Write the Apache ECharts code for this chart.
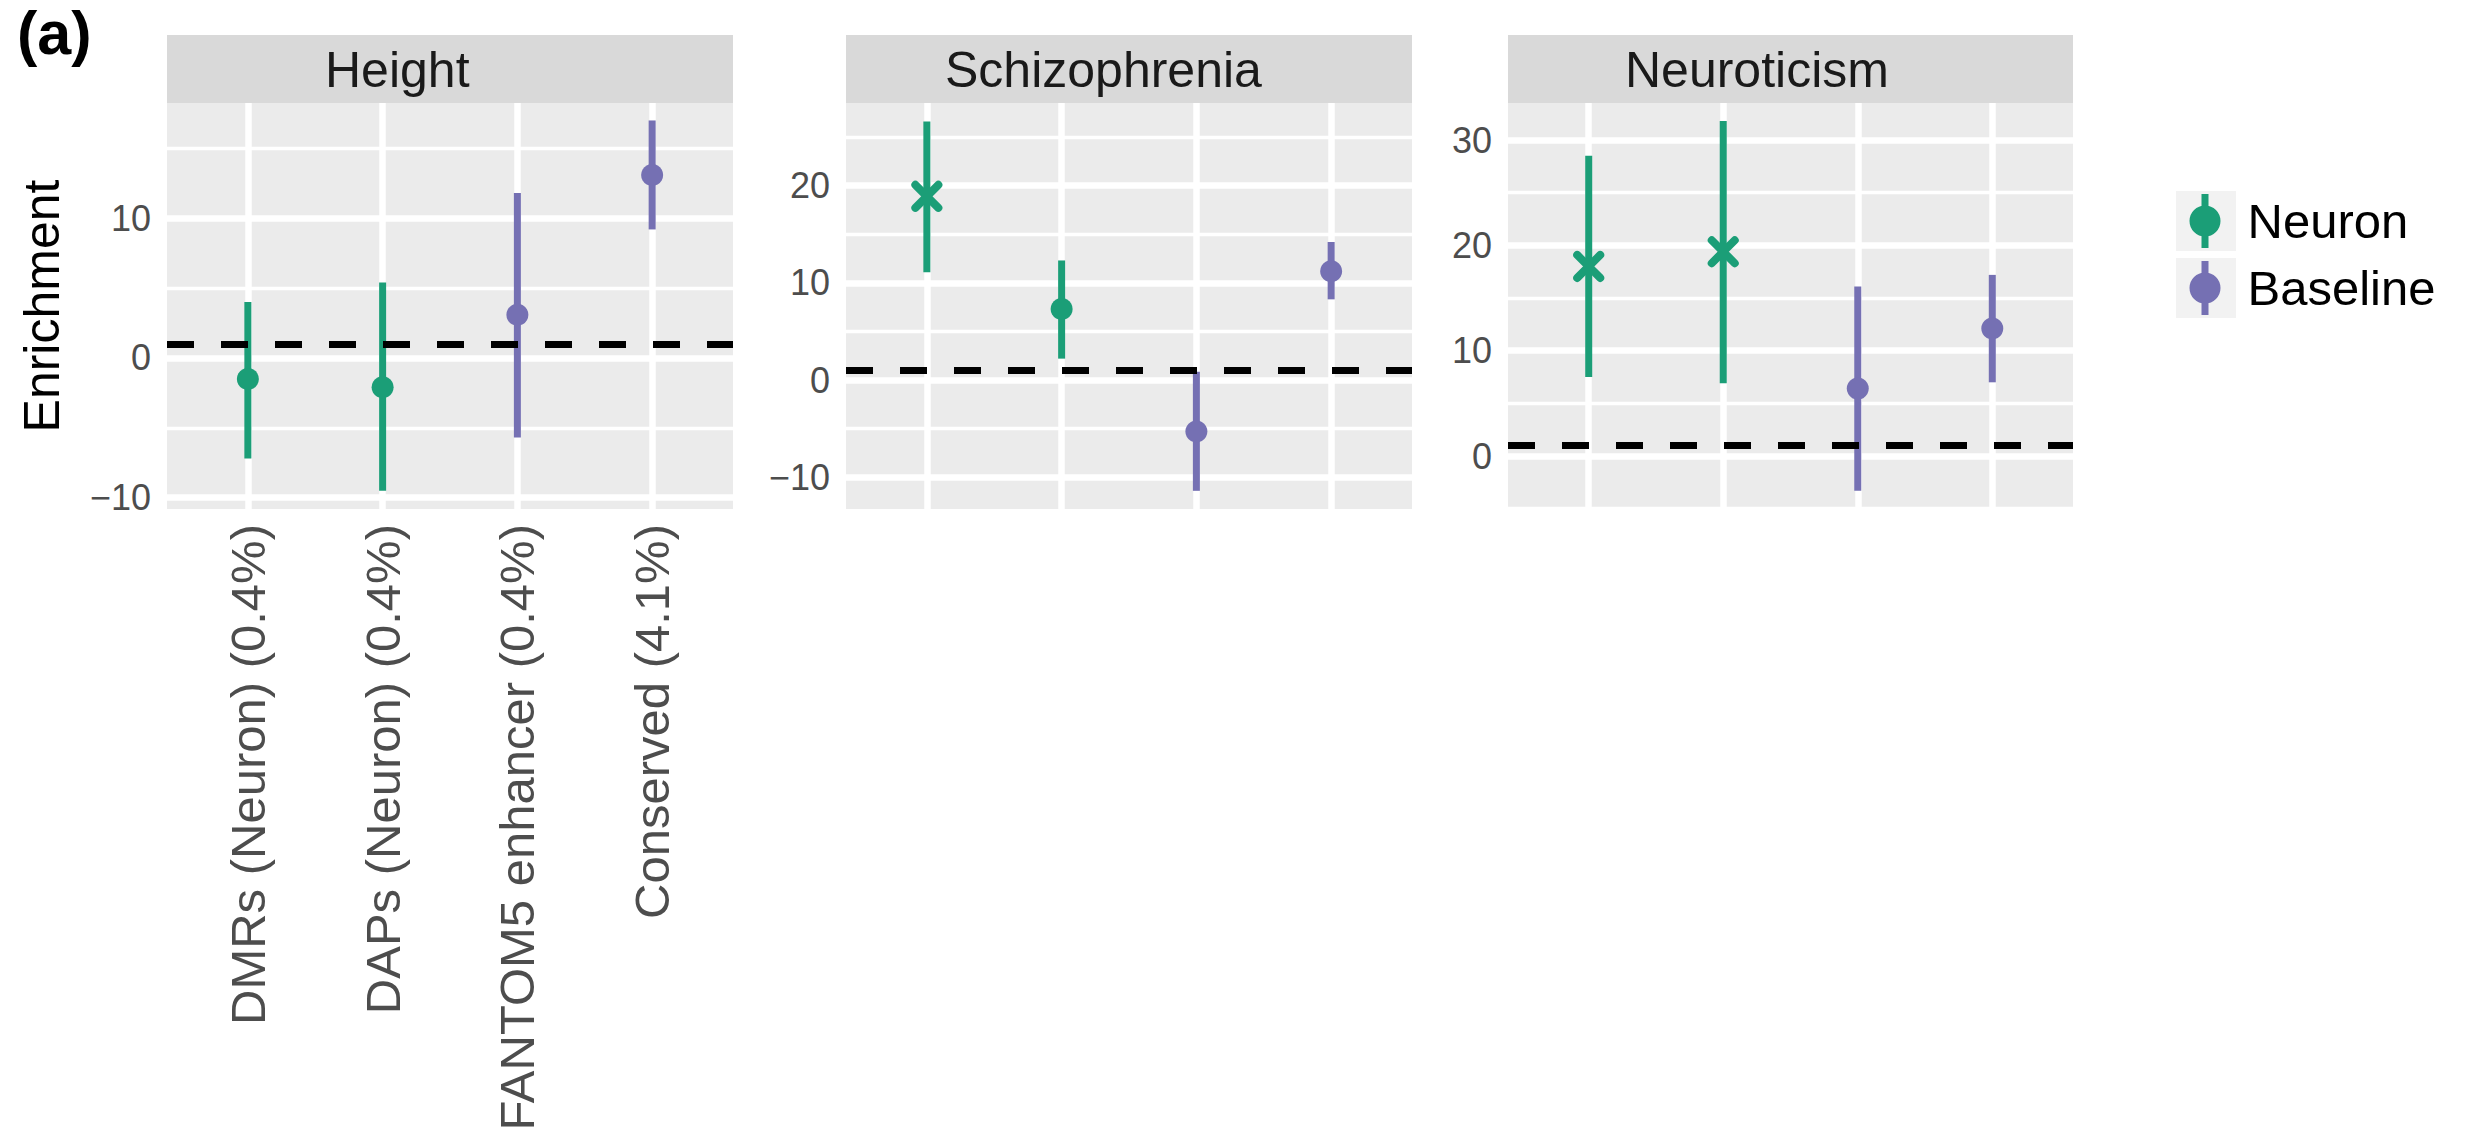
<!DOCTYPE html>
<html>
<head>
<meta charset="utf-8">
<script src="https://cdn.jsdelivr.net/npm/echarts@6/dist/echarts.min.js"></script>
<style>
  html, body { margin: 0; padding: 0; background: #ffffff; }
  #chart { width: 2476px; height: 1137px; }
</style>
</head>
<body>
<div id="chart"></div>
<script>
// ---------------- data ----------------
const categories = ['DMRs (Neuron) (0.4%)', 'DAPs (Neuron) (0.4%)', 'FANTOM5 enhancer (0.4%)', 'Conserved (4.1%)'];
const categoryGroup = ['Neuron', 'Neuron', 'Baseline', 'Baseline'];
const traits = ['Height', 'Schizophrenia', 'Neuroticism'];

const heightEst = [-1.5, -2.1, 3.1, 13.1];
const heightLow = [-7.2, -9.5, -5.7, 9.2];
const heightHigh = [4.0, 5.4, 11.8, 17.0];
const heightSignif = [0, 0, 0, 0];

const schizEst = [18.9, 7.3, -5.3, 11.2];
const schizLow = [11.1, 2.2, -11.4, 8.3];
const schizHigh = [26.6, 12.3, 0.85, 14.2];
const schizSignif = [1, 0, 0, 0];

const neuroEst = [18.0, 19.4, 6.4, 12.1];
const neuroLow = [7.5, 6.9, -3.3, 7.0];
const neuroHigh = [28.5, 31.8, 16.1, 17.2];
const neuroSignif = [1, 1, 0, 0];

const referenceLine = 1;
const yLimits = [[-10.81, 18.25], [-13.27, 28.5], [-5.03, 33.52]];
const majorStep = 10;
const minorStep = 5;

// ---------------- styling ----------------
const FONT = '"Liberation Sans", Arial, Helvetica, sans-serif';
const groupColor = { Neuron: '#1b9e77', Baseline: '#7570b3' };
const panelLeft = [167, 846, 1508];
const panelWidth = [566, 566, 565];
const panelTop = 103, panelHeight = 406;
const stripTop = 35, stripHeight = 68;
const stripTextLeft = [325, 945, 1625];

const panels = [
  { est: heightEst, low: heightLow, high: heightHigh, sig: heightSignif },
  { est: schizEst, low: schizLow, high: schizHigh, sig: schizSignif },
  { est: neuroEst, low: neuroLow, high: neuroHigh, sig: neuroSignif }
];

function fmtNum(v) { return v < 0 ? '\u2212' + Math.abs(v) : String(v); }

function renderItem(params, api) {
  const x = api.value(0), est = api.value(1), lo = api.value(2), hi = api.value(3), sig = api.value(4);
  const a = api.coord([x, lo]), b = api.coord([x, hi]), c = api.coord([x, est]);
  const color = api.visual('color');
  const children = [{
    type: 'line', shape: { x1: a[0], y1: a[1], x2: b[0], y2: b[1] },
    style: { stroke: color, lineWidth: 7 }
  }];
  if (sig) {
    const d = 11.5;
    children.push({ type: 'line', shape: { x1: c[0] - d, y1: c[1] - d, x2: c[0] + d, y2: c[1] + d },
      style: { stroke: color, lineWidth: 8, lineCap: 'round' } });
    children.push({ type: 'line', shape: { x1: c[0] - d, y1: c[1] + d, x2: c[0] + d, y2: c[1] - d },
      style: { stroke: color, lineWidth: 8, lineCap: 'round' } });
  } else {
    children.push({ type: 'circle', shape: { cx: c[0], cy: c[1], r: 11 }, style: { fill: color } });
  }
  return { type: 'group', children };
}

const grids = [], xAxes = [], yAxes = [], series = [], graphics = [];

panels.forEach((p, pi) => {
  grids.push({ left: panelLeft[pi], top: panelTop, width: panelWidth[pi], height: panelHeight,
    show: true, backgroundColor: '#ebebeb', borderWidth: 0, containLabel: false });

  xAxes.push({
    type: 'value', gridIndex: pi, min: 0.4, max: categories.length + 0.6,
    minInterval: 1, maxInterval: 1,
    axisLine: { show: false }, axisTick: { show: false },
    splitLine: { show: true, showMinLine: false, showMaxLine: false, lineStyle: { color: '#ffffff', width: 6.5 } },
    axisLabel: {
      show: pi === 0, rotate: 90, margin: 15, fontSize: 49, color: '#4d4d4d', fontFamily: FONT,
      showMinLabel: false, showMaxLabel: false,
      formatter: v => (Number.isInteger(v) && v >= 1 && v <= categories.length) ? categories[v - 1] : ''
    }
  });

  // major y axis (labels + major grid)
  yAxes.push({
    type: 'value', gridIndex: pi, min: yLimits[pi][0], max: yLimits[pi][1],
    minInterval: majorStep, maxInterval: majorStep,
    axisLine: { show: false }, axisTick: { show: false },
    splitLine: { show: true, showMinLine: false, showMaxLine: false, lineStyle: { color: '#ffffff', width: 6.5 } },
    axisLabel: { show: true, margin: 16, fontSize: 36, color: '#4d4d4d', fontFamily: FONT,
      showMinLabel: false, showMaxLabel: false, formatter: fmtNum },
    name: pi === 0 ? 'Enrichment' : '', nameLocation: 'middle', nameRotate: 90, nameGap: 100,
    nameTextStyle: { fontSize: 50, color: '#000000', fontFamily: FONT }
  });
  // minor y axis (minor grid only)
  yAxes.push({
    type: 'value', gridIndex: pi, min: yLimits[pi][0], max: yLimits[pi][1],
    minInterval: minorStep, maxInterval: minorStep,
    axisLine: { show: false }, axisTick: { show: false }, axisLabel: { show: false },
    splitLine: { show: true, showMinLine: false, showMaxLine: false, lineStyle: { color: '#ffffff', width: 3.3 } }
  });

  ['Neuron', 'Baseline'].forEach((g, gi) => {
    const data = [];
    categories.forEach((c, ci) => {
      if (categoryGroup[ci] === g) data.push([ci + 1, p.est[ci], p.low[ci], p.high[ci], p.sig[ci]]);
    });
    const s = {
      type: 'custom', name: g, xAxisIndex: pi, yAxisIndex: pi * 2,
      itemStyle: { color: groupColor[g] },
      renderItem, data, encode: { x: 0, y: [1, 2, 3] }, z: 3
    };
    if (gi === 0) {
      s.markLine = {
        silent: true, symbol: ['none', 'none'], label: { show: false }, animation: false,
        lineStyle: { color: '#000000', width: 7, type: [27, 27] },
        data: [{ yAxis: referenceLine }]
      };
    }
    series.push(s);
  });

  // facet strip
  graphics.push({ type: 'rect', left: panelLeft[pi], top: stripTop,
    shape: { width: panelWidth[pi], height: stripHeight }, style: { fill: '#d9d9d9' }, silent: true });
  graphics.push({ type: 'text', x: stripTextLeft[pi], y: stripTop + stripHeight / 2 + 1,
    style: { text: traits[pi], fontSize: 50, fill: '#1a1a1a', fontFamily: FONT, align: 'left', verticalAlign: 'middle' },
    silent: true });
});

// legend key backgrounds
graphics.push({ type: 'rect', left: 2176, top: 191, shape: { width: 60, height: 60 }, style: { fill: '#f2f2f2' }, silent: true, z: -1 });
graphics.push({ type: 'rect', left: 2176, top: 258, shape: { width: 60, height: 60 }, style: { fill: '#f2f2f2' }, silent: true, z: -1 });

const legendIcon = 'path://M26.5,3L33.5,3L33.5,16L26.5,16Z M26.5,44L33.5,44L33.5,57L26.5,57Z M14.5,30A15.5,15.5 0 1,1 45.5,30A15.5,15.5 0 1,1 14.5,30Z';

const chart = echarts.init(document.getElementById('chart'), null, { renderer: 'svg' });
chart.setOption({
  animation: false,
  backgroundColor: '#ffffff',
  title: { text: '(a)', left: 17, top: 2, padding: 0,
    textStyle: { fontSize: 61, fontWeight: 'bold', color: '#000000', fontFamily: FONT } },
  legend: {
    orient: 'vertical', left: 2189.5, top: 194, padding: 0, itemWidth: 31, itemHeight: 54, itemGap: 13,
    selectedMode: false,
    data: [{ name: 'Neuron', icon: legendIcon }, { name: 'Baseline', icon: legendIcon }],
    textStyle: { fontSize: 49, color: '#000000', fontFamily: FONT, padding: [0, 0, 0, 22] }
  },
  grid: grids,
  xAxis: xAxes,
  yAxis: yAxes,
  series,
  graphic: graphics
});
</script>
</body>
</html>
